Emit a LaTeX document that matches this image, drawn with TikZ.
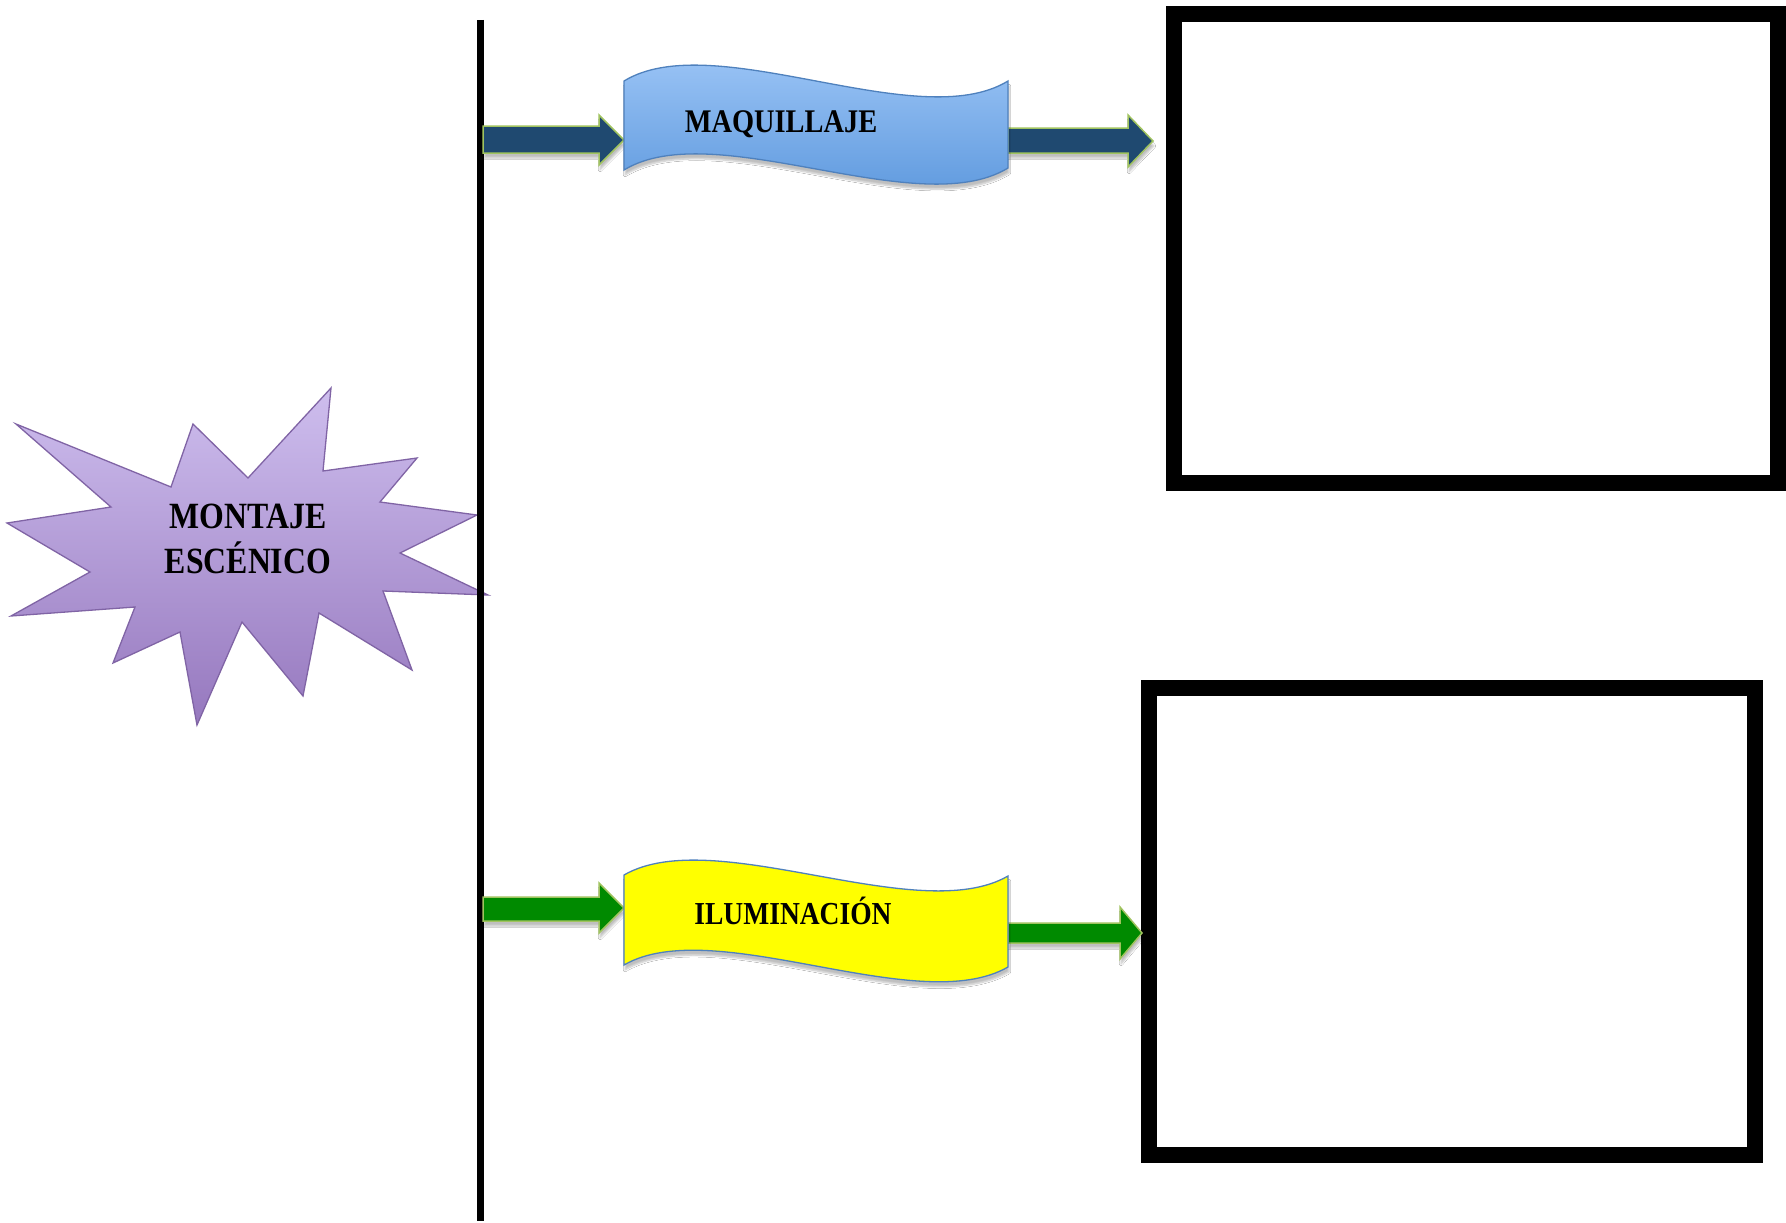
\documentclass[tikz,border=0pt]{standalone}
\usepackage{fontspec}
\newfontfamily\lblfont[FakeStretch=0.86]{Liberation Serif}
\usetikzlibrary{shadows.blur}
\definecolor{arrblue}{RGB}{31,73,112}
\definecolor{arrgreen}{RGB}{0,138,0}
\definecolor{arredge}{RGB}{160,195,95}
\definecolor{startop}{RGB}{206,190,238}
\definecolor{starbot}{RGB}{150,120,190}
\definecolor{staredge}{RGB}{128,100,165}
\definecolor{bantop}{RGB}{166,204,250}
\definecolor{banbot}{RGB}{84,146,218}
\definecolor{banedge}{RGB}{79,129,189}
\definecolor{banyellow}{RGB}{255,255,0}
\tikzset{
  softshadow/.style={blur shadow={shadow xshift=1pt, shadow yshift=-5pt, shadow blur steps=6, shadow opacity=25}},
  blockarrow/.style={draw=arredge, line width=1.5pt, line join=miter, softshadow},
  banner/.style={draw=banedge, line width=1.3pt, softshadow},
  lbl/.style={font=\lblfont\bfseries, text=black, inner sep=0pt, anchor=base},
  framebox/.style={draw=black, line width=16pt, line join=miter}
}
\begin{document}
\begin{tikzpicture}[x=1pt,y=-1pt]
\useasboundingbox (0,0) rectangle (1786,1223);
\fill[white] (0,0) rectangle (1786,1223);

% star
\path[draw=staredge, line width=1.3pt, top color=startop, bottom color=starbot, line join=miter]
 (16,424) -- (171,487) -- (193,424) -- (248,478) -- (331,388) -- (323,471) -- (417,458) -- (380,502)
 -- (477,515) -- (400,553) -- (488,595) -- (383,591) -- (412,670) -- (319,613) -- (303,696) -- (242,622)
 -- (197,725) -- (180,632) -- (113,663) -- (135,607) -- (11,616) -- (90,572) -- (7,523) -- (111,507) -- cycle;
\node[lbl, font=\lblfont\bfseries\fontsize{37}{44}\selectfont] (montaje) at (248,528) {MONTAJE};
\node[lbl, font=\lblfont\bfseries\fontsize{37}{44}\selectfont] (escenico) at (248,573) {ESCÉNICO};

% vertical line
\coordinate (ltop) at (480,20);
\coordinate (lbot) at (480,1221);
\draw[line width=7pt, black] (ltop) -- (lbot);

% frames
\node[framebox, minimum width=604pt, minimum height=469pt, inner sep=0pt] (box1) at (1476,248.5) {};
\node[framebox, minimum width=606pt, minimum height=467pt, inner sep=0pt] (box2) at (1452,921.5) {};

% blue arrows
\path[blockarrow, fill=arrblue] (483,126) -- (599,126) -- (599,115) -- (624,140) -- (599,165) -- (599,153) -- (483,153) -- cycle;
\path[blockarrow, fill=arrblue] (1008,128) -- (1128,128) -- (1128,115) -- (1153,141) -- (1128,167) -- (1128,153) -- (1008,153) -- cycle;

% green arrows
\path[blockarrow, fill=arrgreen] (483,897) -- (599,897) -- (599,883) -- (624,908) -- (599,933) -- (599,921) -- (483,921) -- cycle;
\path[blockarrow, fill=arrgreen] (1008,923) -- (1120,923) -- (1120,907) -- (1142,933) -- (1120,959) -- (1120,943) -- (1008,943) -- cycle;

% banners
\path[banner, top color=bantop, bottom color=banbot]
 (624,81) .. controls (714,26) and (918,136) .. (1008,81) -- (1008,168)
 .. controls (918,223) and (714,115) .. (624,170) -- cycle;
\node[lbl, font=\lblfont\bfseries\fontsize{33}{40}\selectfont] (maq) at (781,132) {MAQUILLAJE};

\path[banner, fill=banyellow]
 (624,875) .. controls (714,823) and (918,928) .. (1008,876) -- (1008,967)
 .. controls (918,1019) and (714,913) .. (624,965) -- cycle;
\node[lbl, font=\lblfont\bfseries\fontsize{32}{40}\selectfont] (ilu) at (793,924) {ILUMINACIÓN};

\end{tikzpicture}
\end{document}
